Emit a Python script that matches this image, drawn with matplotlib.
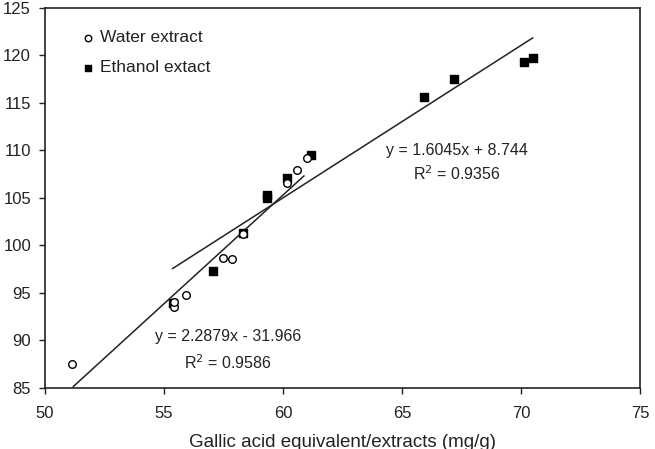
import numpy as np
import matplotlib
matplotlib.use("Agg")
import matplotlib.pyplot as plt

plt.rcParams['font.family'] = ['Liberation Sans', 'DejaVu Sans']

# water extract (open circles)
water_x = [51.13, 55.40, 55.40, 55.92, 57.49, 57.84, 58.30, 60.15, 60.60, 61.00]
water_y = [87.5, 93.5, 94.1, 94.8, 98.7, 98.6, 101.2, 106.55, 107.95, 109.2]

# ethanol extract (filled squares)
eth_x = [55.39, 57.07, 58.32, 59.33, 59.33, 60.15, 61.18, 65.94, 67.20, 70.14, 70.52]
eth_y = [93.9, 97.3, 101.3, 105.0, 105.3, 107.1, 109.5, 115.67, 117.56, 119.35, 119.77]

# regression lines as printed on the chart
water_fit = (2.2879, -31.966)
eth_fit = (1.6045, 8.744)
water_line_x = [51.19, 60.88]
eth_line_x = [55.36, 70.49]

txt = '#222222'

fig = plt.figure(figsize=(6.55, 4.49), dpi=100)
ax = fig.add_axes([0.0687, 0.1359, 0.9083, 0.8463])

wx = np.array(water_line_x)
ex = np.array(eth_line_x)
ax.plot(wx, water_fit[0] * wx + water_fit[1], color=txt, lw=1.1)
ax.plot(ex, eth_fit[0] * ex + eth_fit[1], color=txt, lw=1.1)

ax.scatter(eth_x, eth_y, marker='s', s=28, color='black', zorder=3, label='Ethanol extact')
ax.scatter(water_x, water_y, marker='o', s=30, facecolors='white', edgecolors='black',
           linewidths=1.0, zorder=4, label='Water extract')

ax.text(67.3, 110.05, 'y = 1.6045x + 8.744', fontsize=11.5, color=txt, ha='center', va='center')
ax.text(67.3, 107.6, 'R$^2$ = 0.9356', fontsize=11.5, color=txt, ha='center', va='center')
ax.text(57.7, 90.47, 'y = 2.2879x - 31.966', fontsize=11.5, color=txt, ha='center', va='center')
ax.text(57.7, 87.7, 'R$^2$ = 0.9586', fontsize=11.5, color=txt, ha='center', va='center')

h, l = ax.get_legend_handles_labels()
ax.legend(h[::-1], l[::-1], loc='upper left', bbox_to_anchor=(0.064, 0.942), frameon=False,
          fontsize=12.5, handletextpad=0.4, handlelength=0.6, markerscale=0.85,
          borderpad=0, borderaxespad=0, labelspacing=0.85, labelcolor=txt)

ax.set_xlim(50, 75)
ax.set_ylim(85, 125)
ax.set_xticks([50, 55, 60, 65, 70, 75])
ax.set_yticks(np.arange(85, 126, 5))
ax.tick_params(direction='out', length=4, width=1, labelsize=12, colors=txt)
ax.tick_params(axis='x', pad=9)
ax.tick_params(axis='y', pad=6)
for s in ax.spines.values():
    s.set_linewidth(1.2)
    s.set_color(txt)
ax.set_xlabel('Gallic acid equivalent/extracts (mg/g)', fontsize=13.5, color=txt, labelpad=9)

fig.savefig('out.png', dpi=100)
